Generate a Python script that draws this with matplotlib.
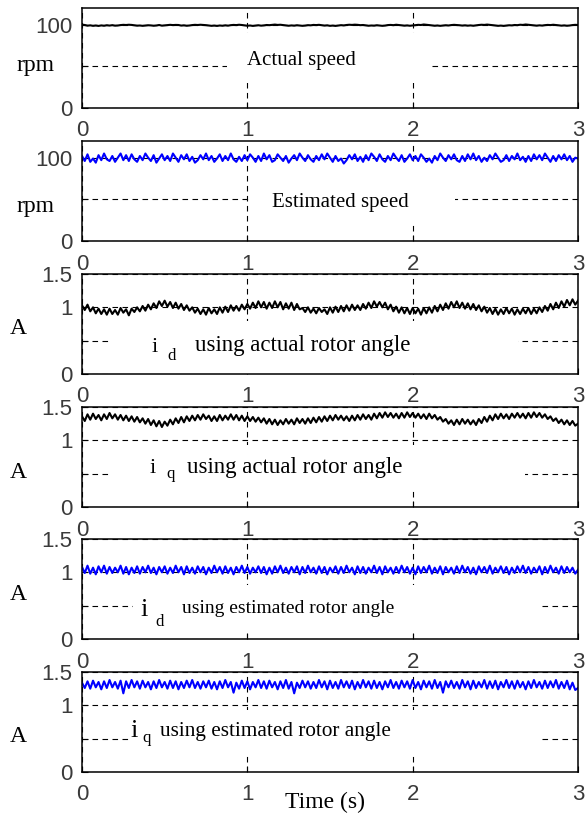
import numpy as np
import matplotlib
matplotlib.use('Agg')
import matplotlib.pyplot as plt
from matplotlib.patches import Rectangle

# ---- data (181 samples over 0..3 s) ----
actual_speed = [
    100.0, 99.6, 98.8, 99.2, 98.6, 99.0, 98.5, 99.1, 98.7, 99.3, 98.9, 99.4, 98.8, 99.0, 99.5, 99.8, 99.6, 99.9, 99.7, 99.2,
    98.8, 99.0, 98.6, 98.9, 99.3, 99.1, 98.7, 99.0, 99.6, 98.8, 99.1, 99.4, 99.8, 99.5, 99.7, 99.6, 98.9, 99.2, 98.7, 99.0,
    99.5, 99.8, 99.6, 99.9, 99.7, 99.4, 99.0, 98.6, 98.9, 98.5, 99.0, 98.7, 99.2, 98.8, 99.4, 99.7, 99.5, 99.9, 99.6, 99.1,
    98.7, 99.0, 98.5, 98.9, 99.3, 98.8, 99.1, 99.6, 99.4, 99.8, 100.1, 99.7, 99.9, 99.5, 99.0, 98.7, 99.1, 98.8, 99.3, 99.0,
    98.6, 98.9, 99.4, 99.2, 99.7, 99.5, 99.8, 99.3, 98.9, 99.2, 98.6, 98.9, 98.5, 99.0, 99.4, 99.1, 99.6, 99.9, 99.7, 100.0,
    99.8, 99.4, 99.6, 99.1, 98.7, 99.0, 98.8, 99.3, 99.0, 98.6, 98.9, 99.5, 99.7, 99.4, 99.9, 99.6, 99.2, 98.8, 99.1, 98.7,
    99.0, 99.4, 99.8, 99.6, 100.2, 99.9, 99.5, 99.1, 98.7, 99.0, 98.6, 98.9, 99.3, 99.0, 99.5, 99.8, 99.6, 99.3, 98.9, 99.2,
    98.8, 99.1, 98.7, 99.2, 99.6, 99.9, 99.7, 100.1, 99.8, 99.4, 99.0, 98.6, 98.9, 98.5, 98.9, 99.3, 99.1, 99.6, 99.4, 99.9,
    99.7, 100.2, 99.9, 99.5, 99.1, 98.8, 99.2, 98.9, 99.4, 99.7, 99.5, 99.9, 99.6, 99.2, 98.8, 99.1, 98.7, 99.0, 99.5, 99.8,
    99.6]

estimated_speed = [
    102, 96, 104, 95, 99, 94, 103, 97, 105, 98, 96, 102, 95, 100, 105, 97, 103, 96, 104, 98,
    95, 102, 97, 105, 100, 96, 103, 94, 99, 104, 97, 102, 96, 105, 100, 95, 103, 98, 104, 96,
    101, 94, 97, 103, 98, 105, 97, 102, 95, 99, 104, 96, 102, 97, 105, 98, 95, 101, 96, 103,
    97, 104, 100, 95, 102, 96, 105, 98, 103, 95, 97, 104, 100, 96, 102, 94, 99, 103, 97, 105,
    100, 96, 103, 98, 95, 102, 97, 104, 98, 105, 100, 95, 102, 96, 99, 93, 97, 103, 98, 104,
    96, 101, 95, 103, 97, 105, 101, 96, 104, 98, 95, 102, 97, 105, 100, 96, 103, 95, 99, 104,
    97, 102, 96, 104, 100, 95, 99, 94, 102, 97, 105, 100, 96, 103, 98, 104, 97, 95, 102, 96,
    104, 98, 105, 97, 102, 95, 100, 96, 103, 98, 105, 100, 95, 97, 103, 96, 102, 98, 105, 97,
    101, 95, 102, 96, 104, 98, 103, 97, 105, 100, 95, 102, 96, 103, 98, 104, 97, 102, 95, 100,
    99]

id_actual = [
    1.03, 0.96, 1.04, 0.94, 1.00, 0.91, 0.98, 0.90, 0.97, 0.89, 0.98, 0.90, 0.96, 0.89, 0.99, 0.92, 0.97, 0.88, 0.98, 0.93,
    1.00, 0.94, 1.02, 0.95, 1.04, 0.97, 1.06, 0.99, 1.09, 1.02, 1.10, 1.01, 1.08, 0.99, 1.07, 0.98, 1.05, 0.96, 1.03, 0.95,
    1.00, 0.92, 0.98, 0.90, 0.97, 0.89, 0.99, 0.91, 0.97, 0.90, 1.00, 0.92, 1.01, 0.93, 1.03, 0.95, 1.02, 0.95, 1.04, 0.97,
    1.05, 0.98, 1.07, 0.99, 1.09, 1.00, 1.08, 0.98, 1.07, 0.99, 1.09, 1.00, 1.08, 0.97, 1.06, 0.98, 1.07, 0.96, 1.05, 0.97,
    0.99, 0.93, 1.00, 0.92, 0.98, 0.91, 0.99, 0.93, 0.97, 0.90, 1.00, 0.92, 1.01, 0.93, 1.02, 0.94, 1.03, 0.95, 1.04, 0.96,
    1.03, 0.96, 1.05, 0.98, 1.07, 0.99, 1.09, 1.01, 1.08, 1.00, 1.07, 0.97, 1.04, 0.94, 1.01, 0.92, 1.00, 0.91, 0.99, 0.90,
    0.99, 0.91, 0.98, 0.89, 0.99, 0.91, 1.00, 0.92, 1.02, 0.94, 1.04, 0.96, 1.06, 0.98, 1.08, 1.00, 1.09, 0.99, 1.07, 0.98,
    1.06, 0.97, 1.05, 0.96, 1.03, 0.94, 1.01, 0.92, 0.99, 0.90, 0.98, 0.89, 0.97, 0.90, 0.99, 0.91, 0.98, 0.89, 0.97, 0.90,
    0.98, 0.91, 0.99, 0.90, 0.98, 0.91, 1.00, 0.93, 1.02, 0.95, 1.05, 0.97, 1.07, 0.99, 1.09, 1.01, 1.11, 1.03, 1.12, 1.04,
    1.10]

iq_actual = [
    1.36, 1.29, 1.39, 1.31, 1.40, 1.32, 1.38, 1.30, 1.39, 1.32, 1.41, 1.33, 1.39, 1.31, 1.38, 1.30, 1.37, 1.29, 1.36, 1.28,
    1.35, 1.27, 1.33, 1.25, 1.32, 1.23, 1.30, 1.21, 1.29, 1.20, 1.28, 1.22, 1.31, 1.24, 1.33, 1.26, 1.35, 1.27, 1.36, 1.29,
    1.37, 1.30, 1.38, 1.31, 1.39, 1.32, 1.37, 1.29, 1.36, 1.29, 1.38, 1.30, 1.37, 1.31, 1.39, 1.31, 1.38, 1.30, 1.37, 1.29,
    1.36, 1.29, 1.35, 1.28, 1.34, 1.27, 1.33, 1.25, 1.32, 1.24, 1.31, 1.23, 1.30, 1.24, 1.32, 1.25, 1.31, 1.24, 1.33, 1.26,
    1.32, 1.25, 1.33, 1.26, 1.34, 1.27, 1.35, 1.28, 1.36, 1.29, 1.37, 1.30, 1.38, 1.31, 1.37, 1.30, 1.36, 1.29, 1.37, 1.30,
    1.38, 1.31, 1.39, 1.32, 1.38, 1.31, 1.40, 1.33, 1.41, 1.34, 1.42, 1.35, 1.41, 1.34, 1.40, 1.33, 1.41, 1.34, 1.42, 1.35,
    1.41, 1.34, 1.40, 1.33, 1.39, 1.32, 1.40, 1.33, 1.38, 1.31, 1.35, 1.28, 1.32, 1.25, 1.30, 1.23, 1.31, 1.24, 1.32, 1.25,
    1.31, 1.24, 1.30, 1.23, 1.32, 1.26, 1.35, 1.28, 1.37, 1.30, 1.39, 1.32, 1.40, 1.33, 1.39, 1.32, 1.40, 1.34, 1.41, 1.34,
    1.40, 1.33, 1.41, 1.34, 1.42, 1.35, 1.41, 1.34, 1.39, 1.32, 1.36, 1.29, 1.33, 1.26, 1.31, 1.24, 1.30, 1.23, 1.29, 1.22,
    1.25]

id_estimated = [
    1.08, 0.99, 1.10, 0.98, 1.07, 0.97, 1.09, 1.00, 1.10, 0.98, 1.08, 0.99, 1.07, 1.00, 1.10, 0.98, 1.08, 0.97, 1.07, 0.99,
    1.09, 0.98, 1.08, 1.00, 1.10, 0.99, 1.07, 0.97, 1.08, 1.00, 1.09, 0.98, 1.07, 0.99, 1.10, 1.00, 1.08, 0.97, 1.09, 0.99,
    1.07, 0.98, 1.09, 1.00, 1.08, 0.97, 1.07, 0.99, 1.10, 1.00, 1.08, 0.98, 1.09, 0.99, 1.07, 0.97, 1.08, 1.00, 1.10, 0.99,
    1.08, 0.98, 1.07, 1.00, 1.09, 0.99, 1.08, 0.97, 1.07, 0.98, 1.09, 1.00, 1.10, 0.99, 1.07, 0.98, 1.08, 1.00, 1.09, 0.97,
    1.08, 0.99, 1.10, 1.00, 1.07, 0.98, 1.09, 0.99, 1.08, 0.97, 1.07, 1.00, 1.09, 0.98, 1.08, 0.99, 1.10, 1.00, 1.07, 0.97,
    1.09, 0.99, 1.08, 0.98, 1.07, 1.00, 1.10, 0.99, 1.08, 0.97, 1.09, 1.00, 1.07, 0.98, 1.08, 0.99, 1.10, 1.00, 1.08, 0.98,
    1.07, 0.97, 1.09, 0.99, 1.08, 1.00, 1.10, 0.98, 1.07, 0.99, 1.09, 0.97, 1.08, 1.00, 1.07, 0.98, 1.09, 0.99, 1.10, 1.00,
    1.08, 0.98, 1.07, 0.97, 1.09, 1.00, 1.08, 0.99, 1.10, 0.98, 1.07, 1.00, 1.09, 0.99, 1.08, 0.97, 1.07, 0.99, 1.09, 1.00,
    1.10, 0.99, 1.08, 0.98, 1.07, 1.00, 1.09, 0.97, 1.08, 0.99, 1.10, 1.00, 1.07, 0.98, 1.09, 0.99, 1.08, 1.00, 1.07, 0.98,
    1.04]

iq_estimated = [
    1.34, 1.26, 1.36, 1.25, 1.37, 1.27, 1.35, 1.24, 1.36, 1.26, 1.38, 1.27, 1.35, 1.25, 1.37, 1.18, 1.36, 1.26, 1.38, 1.27,
    1.36, 1.25, 1.37, 1.27, 1.35, 1.24, 1.36, 1.26, 1.38, 1.27, 1.35, 1.25, 1.37, 1.26, 1.36, 1.24, 1.35, 1.26, 1.37, 1.27,
    1.38, 1.26, 1.35, 1.25, 1.36, 1.27, 1.37, 1.25, 1.35, 1.24, 1.36, 1.26, 1.38, 1.27, 1.35, 1.19, 1.34, 1.25, 1.37, 1.26,
    1.36, 1.24, 1.35, 1.27, 1.38, 1.26, 1.36, 1.25, 1.37, 1.27, 1.35, 1.24, 1.36, 1.26, 1.38, 1.25, 1.35, 1.18, 1.34, 1.26,
    1.37, 1.27, 1.36, 1.25, 1.35, 1.26, 1.38, 1.27, 1.36, 1.24, 1.37, 1.26, 1.35, 1.25, 1.38, 1.27, 1.36, 1.26, 1.37, 1.24,
    1.35, 1.26, 1.38, 1.27, 1.36, 1.25, 1.37, 1.26, 1.35, 1.24, 1.36, 1.27, 1.38, 1.26, 1.35, 1.25, 1.37, 1.27, 1.36, 1.25,
    1.38, 1.26, 1.35, 1.24, 1.37, 1.27, 1.36, 1.25, 1.38, 1.26, 1.35, 1.19, 1.36, 1.27, 1.37, 1.26, 1.35, 1.25, 1.38, 1.27,
    1.36, 1.24, 1.37, 1.26, 1.35, 1.27, 1.38, 1.25, 1.36, 1.26, 1.37, 1.24, 1.35, 1.27, 1.38, 1.26, 1.36, 1.25, 1.37, 1.27,
    1.35, 1.24, 1.36, 1.26, 1.38, 1.27, 1.35, 1.25, 1.37, 1.26, 1.36, 1.27, 1.38, 1.25, 1.35, 1.26, 1.37, 1.24, 1.34, 1.23,
    1.26]

time = np.linspace(0, 3, len(actual_speed))
xticks = [0, 1, 2, 3]
speed_ticks = [0, 50, 100]
speed_ticklabels = ['0', '', '100']
current_ticks = [0, 0.5, 1, 1.5]
current_ticklabels = ['0', '', '1', '1.5']

SERIF = 'Liberation Serif'
SANS = 'Liberation Sans'

W, H = 586, 816
fig = plt.figure(figsize=(W / 100, H / 100), dpi=100)

# panel layout in pixels: top edge, height
tops = [8, 141, 274, 407, 539, 672]
left_px, right_px, h_px = 82, 578, 100

# each panel: data, colour, ylim, ticks, ticklabels, ylabel (text, y), white box (x0,x1,y0,y1)
panels = [
    (actual_speed, 'k', 120, speed_ticks, speed_ticklabels, ('rpm', 0.37), (0.292, 0.702, 0.25, 0.75)),
    (estimated_speed, '#0000ff', 120, speed_ticks, speed_ticklabels, ('rpm', 0.29), (0.338, 0.752, 0.16, 0.765)),
    (id_actual, 'k', 1.5, current_ticks, current_ticklabels, ('A', 0.40), (0.056, 0.879, 0.0, 0.53)),
    (iq_actual, 'k', 1.5, current_ticks, current_ticklabels, ('A', 0.29), (0.056, 0.893, 0.17, 0.62)),
    (id_estimated, '#0000ff', 1.5, current_ticks, current_ticklabels, ('A', 0.39), (0.103, 0.923, 0.09, 0.54)),
    (iq_estimated, '#0000ff', 1.5, current_ticks, current_ticklabels, ('A', 0.30), (0.097, 0.927, 0.16, 0.624)),
]

axes = []
for i, (y, col, ymax, yt, ytl, ylab, box) in enumerate(panels):
    top = tops[i]
    ax = fig.add_axes([left_px / W, 1 - (top + h_px) / H, (right_px - left_px) / W, h_px / H])
    ax.plot(time, y, color=col, lw=1.5, zorder=2)
    ax.set_xlim(0, 3)
    ax.set_ylim(0, ymax)
    ax.set_xticks(xticks)
    ax.set_xticklabels([str(t) for t in xticks])
    ax.set_yticks(yt)
    ax.set_yticklabels(ytl)
    ax.grid(True, color='k', linestyle=(0, (5, 4)), linewidth=0.8)
    ax.tick_params(direction='in', length=4, width=0.8, labelsize=16, labelcolor='#3a3a3a',
                   colors='k')
    ax.tick_params(axis='x', pad=9)
    ax.tick_params(axis='y', pad=7)
    for lbl in ax.get_xticklabels() + ax.get_yticklabels():
        lbl.set_family(SANS)
    for s in ax.spines.values():
        s.set_linewidth(1.1)
        s.set_zorder(3)
    x0, x1, y0, y1 = box
    ax.add_patch(Rectangle((x0, y0), x1 - x0, y1 - y0, transform=ax.transAxes,
                           facecolor='white', edgecolor='none', zorder=1.8))
    ax.text(-0.093 if ylab[0] == 'rpm' else -0.129, ylab[1], ylab[0], transform=ax.transAxes,
            ha='center', va='baseline', fontsize=17, family=SERIF)
    axes.append(ax)

# annotations inside the panels
axes[0].text(0.333, 0.43, 'Actual speed', transform=axes[0].transAxes, fontsize=15, family=SERIF)
axes[1].text(0.383, 0.343, 'Estimated speed', transform=axes[1].transAxes, fontsize=15, family=SERIF)

labels = [
    (axes[2], 'd', 'using actual rotor angle', (0.141, 0.22), (0.173, 0.14), (0.228, 0.23), 16, 16.5),
    (axes[3], 'q', 'using actual rotor angle', (0.137, 0.34), (0.171, 0.29), (0.212, 0.34), 16, 16.5),
    (axes[4], 'd', 'using estimated rotor angle', (0.117, 0.23), (0.147, 0.13), (0.202, 0.26), 19, 14),
    (axes[5], 'q', 'using estimated rotor angle', (0.097, 0.35), (0.121, 0.30), (0.157, 0.36), 19, 15.3),
]
for ax, sub, txt, ipos, spos, tpos, isz, tsz in labels:
    ax.text(ipos[0], ipos[1], 'i', transform=ax.transAxes, fontsize=isz, family=SERIF, va='baseline')
    ax.text(spos[0], spos[1], sub, transform=ax.transAxes, fontsize=12, family=SERIF, va='baseline')
    ax.text(tpos[0], tpos[1], txt, transform=ax.transAxes, fontsize=tsz, family=SERIF, va='baseline')

fig.text(285 / W, 1 - 808 / H, 'Time (s)', fontsize=17, family=SERIF, va='baseline')

fig.savefig('out.png', dpi=100, facecolor='white')
